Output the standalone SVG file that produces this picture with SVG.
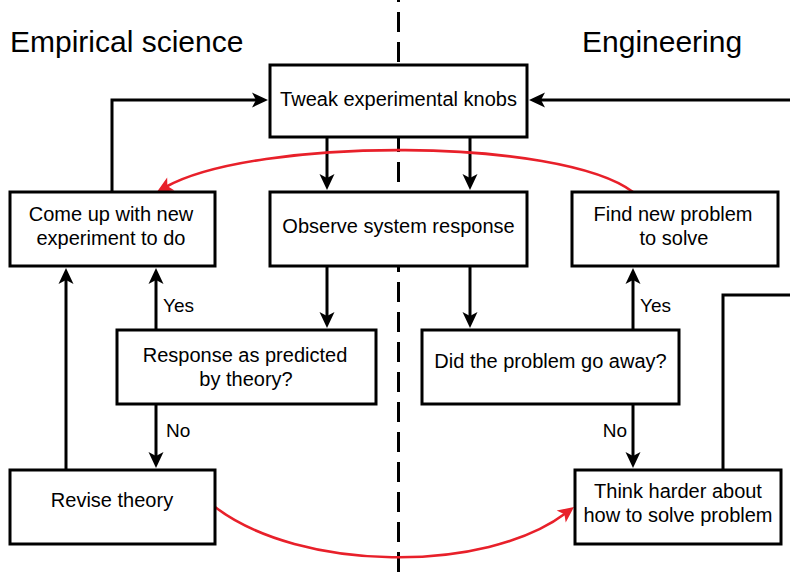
<svg xmlns="http://www.w3.org/2000/svg" width="790" height="575" viewBox="0 0 790 575">
<style>
.box{fill:#fff;stroke:#000;stroke-width:3}
.t{font-family:"Liberation Sans",Arial,sans-serif;font-size:20px;fill:#000;text-anchor:middle}
.title{font-family:"Liberation Sans",Arial,sans-serif;font-size:30px;fill:#000}
.lbl{font-family:"Liberation Sans",Arial,sans-serif;font-size:19px;fill:#000}
.c{fill:none;stroke:#000;stroke-width:3}
.r{fill:none;stroke:#e8202a;stroke-width:2.6}
</style>
<defs>
<marker id="ah" markerUnits="userSpaceOnUse" viewBox="0 -10 20 20" markerWidth="20" markerHeight="20" refX="6" refY="0" orient="auto" overflow="visible">
<path d="M16,0 L0,-7.5 L4,0 L0,7.5 Z" fill="#000"/>
</marker>
<marker id="ahr" markerUnits="userSpaceOnUse" viewBox="0 -10 20 20" markerWidth="20" markerHeight="20" refX="6" refY="0" orient="auto" overflow="visible">
<path d="M16,0 L0,-7.5 L4,0 L0,7.5 Z" fill="#e8202a"/>
</marker>
</defs>
<rect width="790" height="575" fill="#fff"/>
<line x1="398.5" y1="0" x2="398.5" y2="575" stroke="#000" stroke-width="3" stroke-dasharray="20 10" stroke-dashoffset="18"/>
<text class="title" x="10" y="52">Empirical science</text>
<text class="title" x="582" y="52">Engineering</text>
<g id="connectors">
<path class="c" d="M112,192 V100 H258" marker-end="url(#ah)"/>
<path class="c" d="M790,100 H539" marker-end="url(#ah)"/>
<path class="c" d="M327,137 V180" marker-end="url(#ah)"/>
<path class="c" d="M470,137 V180" marker-end="url(#ah)"/>
<path class="c" d="M327,266 V318" marker-end="url(#ah)"/>
<path class="c" d="M470,266 V318" marker-end="url(#ah)"/>
<path class="c" d="M156,330 V278" marker-end="url(#ah)"/>
<path class="c" d="M66,470 V278" marker-end="url(#ah)"/>
<path class="c" d="M156,404 V458" marker-end="url(#ah)"/>
<path class="c" d="M633,330 V278" marker-end="url(#ah)"/>
<path class="c" d="M633,404 V458" marker-end="url(#ah)"/>
<path class="c" d="M723,470 V295 H790"/>
<path class="r" d="M633,192 C560,137 255,137 165.6,187" marker-end="url(#ahr)"/>
<path class="r" d="M215,507 C300,572 485,574 566,513" marker-end="url(#ahr)"/>
<text class="lbl" x="163" y="312">Yes</text>
<text class="lbl" x="166" y="437">No</text>
<text class="lbl" x="640" y="312">Yes</text>
<text class="lbl" x="627" y="437" text-anchor="end">No</text>
</g>
<g id="tweak">
<rect class="box" x="270" y="65" width="257" height="72"/>
<text class="t" x="398.5" y="106">Tweak experimental knobs</text>
</g>
<g id="comeup">
<rect class="box" x="10" y="192" width="205" height="74"/>
<text class="t" x="111" y="221">Come up with new</text>
<text class="t" x="111" y="245">experiment to do</text>
</g>
<g id="observe">
<rect class="box" x="270" y="192" width="257" height="74"/>
<text class="t" x="398.5" y="233">Observe system response</text>
</g>
<g id="findnew">
<rect class="box" x="572" y="192" width="206" height="74"/>
<text class="t" x="673" y="221">Find new problem</text>
<text class="t" x="674" y="245">to solve</text>
</g>
<g id="response">
<rect class="box" x="117" y="330" width="259" height="74"/>
<text class="t" x="245" y="362">Response as predicted</text>
<text class="t" x="246" y="386">by theory?</text>
</g>
<g id="didgo">
<rect class="box" x="422" y="330" width="257" height="74"/>
<text class="t" x="550.5" y="368">Did the problem go away?</text>
</g>
<g id="revise">
<rect class="box" x="10" y="470" width="205" height="74"/>
<text class="t" x="112" y="507">Revise theory</text>
</g>
<g id="think">
<rect class="box" x="575" y="470" width="206" height="74"/>
<text class="t" x="678" y="498">Think harder about</text>
<text class="t" x="678" y="522">how to solve problem</text>
</g>
</svg>
